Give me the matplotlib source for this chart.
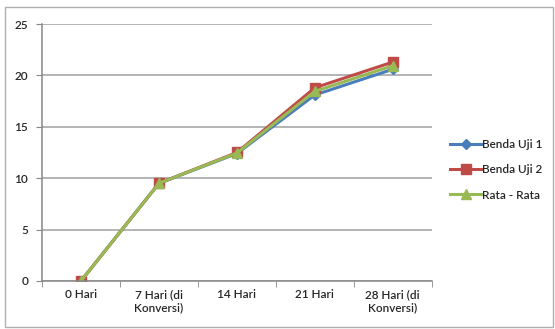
import numpy as np
import matplotlib.pyplot as plt
from matplotlib.patches import Rectangle

categories = ['0 Hari', '7 Hari (di\nKonversi)', '14 Hari', '21 Hari', '28 Hari (di\nKonversi)']
benda_uji_1 = [0, 9.5, 12.4, 18.1, 20.6]
benda_uji_2 = [0, 9.5, 12.5, 18.8, 21.3]
rata_rata = [0, 9.5, 12.45, 18.45, 20.95]

plt.rcParams['font.family'] = ['Lato', 'DejaVu Sans']
plt.rcParams['font.weight'] = 'semibold'
text_color = '#262626'

fig = plt.figure(figsize=(5.55, 3.29), dpi=100)
ax = fig.add_axes([0.0757, 0.146, 0.7023, 0.781])

x = np.arange(len(categories))
ax.plot(x, benda_uji_1, color='#4a7ebb', lw=2.2, marker='D', ms=5, label='Benda Uji 1')
ax.plot(x, benda_uji_2, color='#be4b48', lw=2.2, marker='s', ms=6.5, label='Benda Uji 2')
ax.plot(x, rata_rata, color='#98b954', lw=2.2, marker='^', ms=7, label='Rata - Rata')

ax.set_xlim(-0.5, len(categories) - 0.5)
ax.set_ylim(0, 25)
ax.set_yticks(range(0, 26, 5))
ax.set_xticks(x)
ax.set_xticklabels(categories, fontsize=8.5, color=text_color)
ax.set_xticks(np.arange(-0.5, len(categories), 1), minor=True)
ax.tick_params(axis='x', which='major', length=0, pad=6)
ax.tick_params(axis='x', which='minor', length=4, color='#888888')
ax.tick_params(axis='y', length=4, color='#888888', labelsize=8.5, labelcolor=text_color, pad=6)

ax.grid(axis='y', color='#a0a0a0', lw=1.1)
ax.set_axisbelow(True)
for side in ['top', 'right']:
    ax.spines[side].set_visible(False)
for side in ['left', 'bottom']:
    ax.spines[side].set_color('#888888')
    ax.spines[side].set_linewidth(1.1)

leg = ax.legend(loc='center left', bbox_to_anchor=(1.02, 0.432), frameon=False,
                fontsize=8.5, handlelength=2.6, handletextpad=0.1, labelspacing=1.2)
for t in leg.get_texts():
    t.set_color(text_color)

fig.patches.append(Rectangle((5 / 555, 2 / 329), 548 / 555, 320 / 329,
                             transform=fig.transFigure, fill=False,
                             edgecolor='#b0b0b0', lw=1))

fig.savefig('out.png', dpi=100)
